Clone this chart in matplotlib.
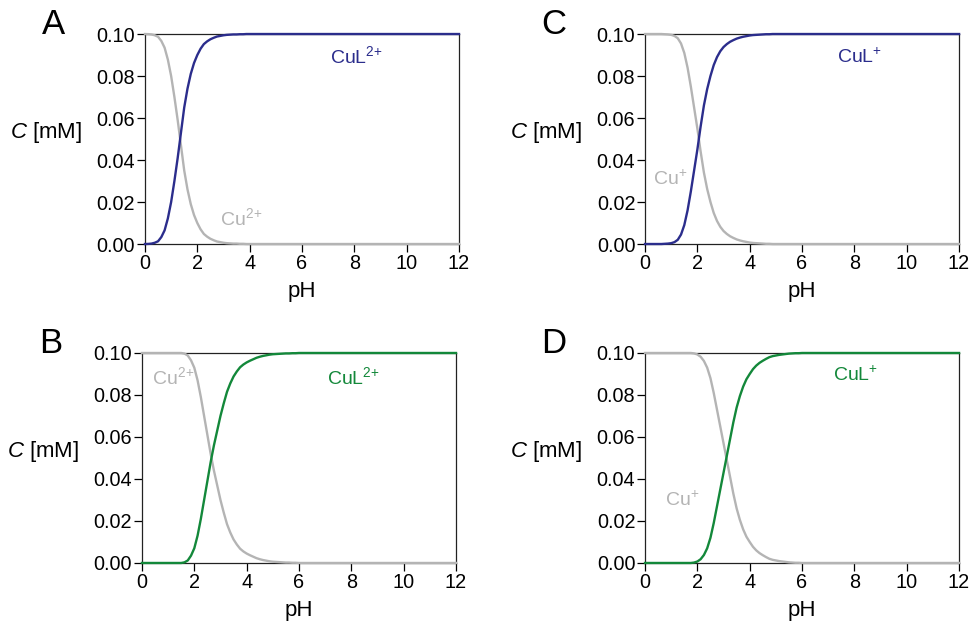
import matplotlib
matplotlib.use("Agg")
import matplotlib.pyplot as plt

plt.rcParams['font.family'] = ['Liberation Sans', 'DejaVu Sans']
plt.rcParams['mathtext.fontset'] = 'custom'
plt.rcParams['mathtext.rm'] = 'Liberation Sans'
plt.rcParams['mathtext.it'] = 'Liberation Sans:italic'

# pH grid shared by all panels (0..6 in steps of 0.125, then whole units)
ph = [i * 0.125 for i in range(49)] + [7, 8, 9, 10, 11, 12]

# complex concentration [mM]
cul_a = [0, 0.00005, 0.0002, 0.0006, 0.0013, 0.0033, 0.0065, 0.0122, 0.020, 0.030,
         0.041, 0.053, 0.065, 0.074, 0.081, 0.0862, 0.090, 0.0930, 0.0952, 0.0965,
         0.0975, 0.0982, 0.0988, 0.0991, 0.0994, 0.0996, 0.0997, 0.0998, 0.0998,
         0.0999, 0.0999] + [0.1] * 24
cul_c = [0, 0, 0, 0, 0, 0, 0.0001, 0.0002, 0.0004, 0.0009, 0.002, 0.0045, 0.009,
         0.016, 0.025, 0.035, 0.045, 0.056, 0.066, 0.0738, 0.080, 0.0852, 0.089,
         0.0918, 0.0938, 0.0952, 0.0963, 0.0971, 0.0978, 0.0983, 0.0987, 0.099,
         0.0993, 0.0995, 0.0996, 0.0997, 0.0998, 0.0999, 0.0999] + [0.1] * 16
cul_b = [0] * 13 + [0.0003, 0.0012, 0.0035, 0.007, 0.013, 0.021, 0.030, 0.039, 0.048,
                    0.056, 0.063, 0.070, 0.076, 0.0815, 0.0855, 0.0888, 0.0912,
                    0.0932, 0.0945, 0.0955, 0.0963, 0.097, 0.0977, 0.0982, 0.0986,
                    0.0989, 0.0992, 0.0994, 0.0995, 0.0996, 0.0997, 0.0998, 0.0998,
                    0.0999, 0.0999, 0.1] + [0.1] * 6
cul_d = [0] * 15 + [0.0002, 0.0007, 0.0018, 0.0038, 0.007, 0.012, 0.019, 0.027, 0.035,
                    0.043, 0.051, 0.059, 0.067, 0.074, 0.0795, 0.084, 0.0875, 0.090,
                    0.0923, 0.094, 0.0953, 0.0963, 0.0972, 0.098, 0.0985, 0.0988,
                    0.0991, 0.0993, 0.0995, 0.0997, 0.0998, 0.0999, 0.0999, 0.1] + [0.1] * 6

# free copper concentration [mM]
cu_a = [0.1, 0.09995, 0.0998, 0.0994, 0.0987, 0.0967, 0.0935, 0.0878, 0.080, 0.070,
        0.059, 0.047, 0.035, 0.026, 0.019, 0.0138, 0.010, 0.0070, 0.0048, 0.0035,
        0.0025, 0.0018, 0.0012, 0.0009, 0.0006, 0.0004, 0.0003, 0.0002, 0.0002,
        0.0001, 0.0001] + [0] * 24
cu_c = [0.1, 0.1, 0.1, 0.1, 0.1, 0.1, 0.0999, 0.0998, 0.0996, 0.0991, 0.098, 0.0955,
        0.091, 0.084, 0.075, 0.065, 0.055, 0.044, 0.034, 0.0262, 0.020, 0.0148, 0.011,
        0.0082, 0.0062, 0.0048, 0.0037, 0.0029, 0.0022, 0.0017, 0.0013, 0.001, 0.0007,
        0.0005, 0.0004, 0.0003, 0.0002, 0.0001, 0.0001] + [0] * 16
cu_b = [0.1] * 13 + [0.0997, 0.0988, 0.0965, 0.093, 0.087, 0.079, 0.070, 0.061, 0.052,
                     0.044, 0.037, 0.030, 0.024, 0.0185, 0.0145, 0.0112, 0.0088, 0.0068,
                     0.0055, 0.0045, 0.0037, 0.003, 0.0023, 0.0018, 0.0014, 0.0011,
                     0.0008, 0.0006, 0.0005, 0.0004, 0.0003, 0.0002, 0.0002, 0.0001,
                     0.0001, 0] + [0] * 6
cu_d = [0.1] * 15 + [0.0998, 0.0993, 0.0982, 0.0962, 0.093, 0.088, 0.081, 0.073, 0.065,
                     0.057, 0.049, 0.041, 0.033, 0.026, 0.0205, 0.016, 0.0125, 0.010,
                     0.0077, 0.006, 0.0047, 0.0037, 0.0028, 0.002, 0.0015, 0.0012,
                     0.0009, 0.0007, 0.0005, 0.0003, 0.0002, 0.0001, 0.0001, 0] + [0] * 6

navy = '#2b2d8c'
green = '#13883a'
grey = '#b4b4b4'

# letter, axes rect, complex, free, colour, labels and their positions (pH, mM)
panels = [
    ('A', [0.1493, 0.6077, 0.3234, 0.3376], cul_a, cu_a, navy,
     r'CuL$^{2\!+}$', r'Cu$^{2\!+}$', (7.07, 0.0895), (2.87, 0.0124)),
    ('C', [0.6643, 0.6077, 0.3234, 0.3376], cul_c, cu_c, navy,
     r'CuL$^{+}$', r'Cu$^{+}$', (7.34, 0.089), (0.31, 0.031)),
    ('B', [0.1462, 0.0949, 0.3234, 0.3376], cul_b, cu_b, green,
     r'CuL$^{2\!+}$', r'Cu$^{2\!+}$', (7.07, 0.0886), (0.38, 0.0886)),
    ('D', [0.6643, 0.0949, 0.3234, 0.3376], cul_d, cu_d, green,
     r'CuL$^{+}$', r'Cu$^{+}$', (7.18, 0.0895), (0.76, 0.030)),
]

fig = plt.figure(figsize=(9.71, 6.22), dpi=100)

for letter, rect, cul, cu, col, lab_cul, lab_cu, pos_cul, pos_cu in panels:
    ax = fig.add_axes(rect)
    ax.plot(ph, cu, color=grey, lw=1.7, clip_on=False, zorder=3,
            solid_joinstyle='round')
    ax.plot(ph, cul, color=col, lw=1.7, clip_on=False, zorder=4,
            solid_joinstyle='round')
    ax.set_xlim(0, 12)
    ax.set_ylim(0, 0.1)
    ax.set_xticks(range(0, 13, 2))
    ax.set_yticks([0, 0.02, 0.04, 0.06, 0.08, 0.10])
    ax.set_yticklabels(['0.00', '0.02', '0.04', '0.06', '0.08', '0.10'])
    ax.tick_params(direction='out', length=6, width=0.9, pad=1, labelsize=14.3,
                   colors='black')
    for s in ax.spines.values():
        s.set_linewidth(0.9)
        s.set_color('#222222')
    ax.set_xlabel('pH', fontsize=16)
    ax.xaxis.set_label_coords(0.5, -0.175)
    ax.set_ylabel('$C$ [mM]', fontsize=16, rotation=0, va='center', ha='center')
    ax.yaxis.set_label_coords(-0.315, 0.53)
    ax.text(pos_cul[0], pos_cul[1], lab_cul, color=col, fontsize=14,
            ha='left', va='center')
    ax.text(pos_cu[0], pos_cu[1], lab_cu, color=grey, fontsize=14,
            ha='left', va='center')
    ax.text(-0.29, 1.045, letter, transform=ax.transAxes, fontsize=25,
            ha='center', va='center')

fig.savefig('out.png', dpi=100)
